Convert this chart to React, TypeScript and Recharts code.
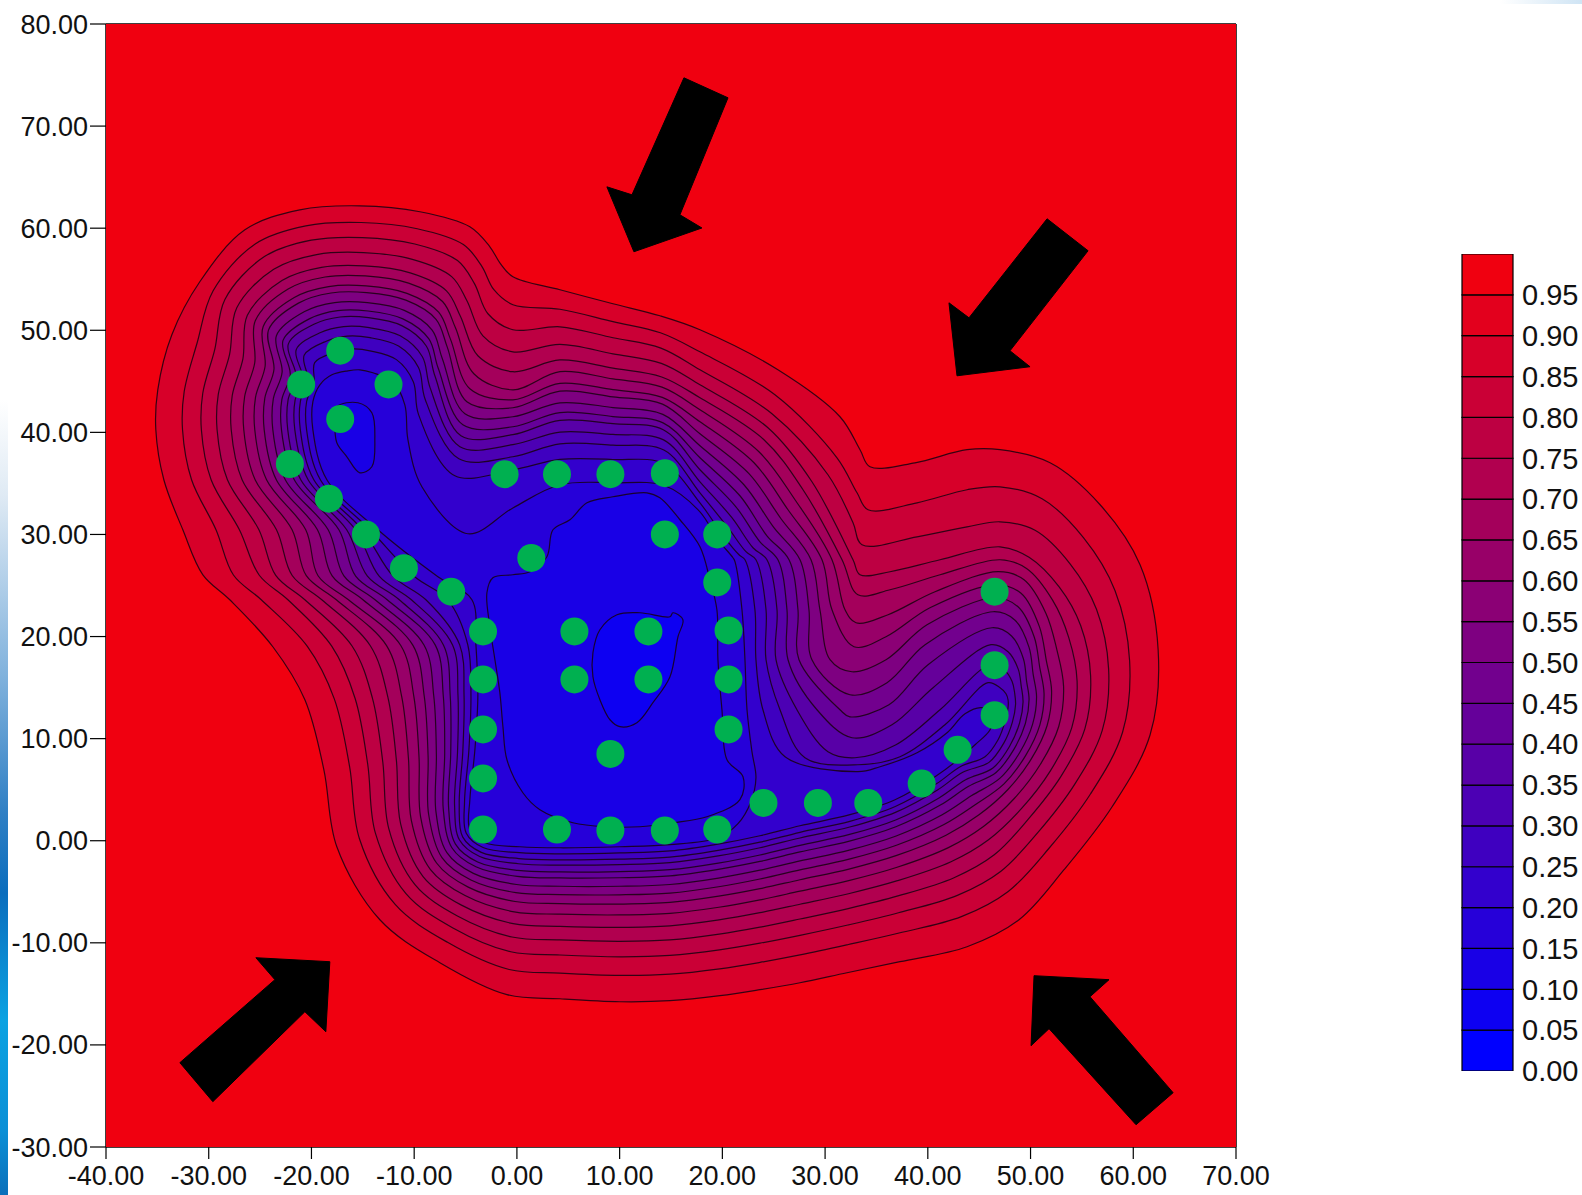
import React from 'react';
import { ScatterChart, Scatter, XAxis, YAxis, BarChart, Bar } from 'recharts';

// ---------- axes ----------
const xTicks = [-40, -30, -20, -10, 0, 10, 20, 30, 40, 50, 60, 70];
const yTicks = [-30, -20, -10, 0, 10, 20, 30, 40, 50, 60, 70, 80];
const colorbarTicks = [0, 0.05, 0.1, 0.15, 0.2, 0.25, 0.3, 0.35, 0.4, 0.45, 0.5, 0.55, 0.6, 0.65, 0.7, 0.75, 0.8, 0.85, 0.9, 0.95];

// ---------- contour levels (outer ring family) ----------
const contourLevels = [0.95, 0.9, 0.85, 0.8, 0.75, 0.7, 0.65, 0.6, 0.55, 0.5, 0.45, 0.4, 0.35, 0.3, 0.25];

// spacing of the contour lines across the ring (fraction from the 0.95 line to the inner line)
const PATTERNS: Record<string, (number | null)[]> = {
  PW: [0, 0.17, 0.29, 0.39, 0.48, 0.56, 0.63, 0.69, 0.745, 0.8, 0.84, 0.885, 0.92, 0.96, 1],
  PN: [0, 0.1, 0.19, 0.28, 0.36, 0.42, 0.48, 0.52, 0.58, 0.63, 0.67, 0.73, 0.79, 0.87, 1],
  PSW: [0, 0.13, 0.24, 0.31, 0.38, 0.44, 0.49, 0.55, 0.6, 0.65, 0.7, 0.75, 0.81, 0.9, 1],
  PE: [0, 0.19, 0.33, 0.45, 0.54, 0.63, 0.71, 0.76, 0.81, 0.86, 0.9, 0.95, 1, null, null],
  PRN: [0, 0.16, 0.3, 0.42, 0.47, 0.52, 0.58, 0.64, 0.7, 0.77, 0.84, 0.92, 1, null, null],
  PNE: [0, 0.175, 0.315, 0.435, 0.505, 0.575, 0.645, 0.7, 0.755, 0.815, 0.87, 0.935, 1, null, null],
  PS14: [0, 0.177, 0.302, 0.406, 0.5, 0.583, 0.656, 0.719, 0.776, 0.833, 0.875, 0.922, 0.958, 1, null],
};

// stations: [x on 0.95 line, y, x on inner line, y, pattern] | explicit list of 15 points | single point of one level
const westNorthStations: any[] = [
  [-35.15, 40.25, -19.86, 40.25, 'PW'],
  [-34.96, 44.17, -19.86, 43.0, 'PW'],
  [-33.59, 49.56, -19.18, 44.66, 'PW'],
  [-30.87, 54.75, -18.01, 45.64, 'PN'],
  [-26.48, 59.84, -16.46, 46.03, 'PN'],
  [-21.13, 61.8, -15.29, 46.13, 'PN'],
  [-15.29, 62.19, -14.02, 45.84, 'PN'],
  [-9.44, 61.61, -12.07, 44.96, 'PN'],
  [-4.58, 60.14, -10.91, 42.7, 'PN'],
  [-2.63, 58.18, -10.61, 39.28, 'PN'],
  { lv: 14, pt: [-9.25, 34.67] },
  [[-1.66, 56.61], [-2.24, 53.97], [-2.82, 51.62], [-3.31, 49.46], [-3.8, 47.5], [-4.19, 45.74], [-4.58, 44.27], [-4.87, 43.0], [-5.06, 41.82], [-5.26, 40.74], [-5.45, 39.67], [-5.55, 38.59], [-5.65, 37.41], [-6.04, 35.75], [-4.77, 30.07]],
  [[-0.39, 55.24], [-0.39, 52.5], [-0.39, 50.05], [-0.39, 47.89], [-0.39, 45.94], [-0.39, 44.17], [-0.39, 43.19], [-0.39, 42.41], [-0.39, 41.53], [-0.39, 40.55], [-0.39, 39.77], [-0.39, 38.79], [-0.39, 37.61], [-0.39, 36.34], [-0.39, 32.6]],
  [4.19, 53.97, 4.19, 34.87, 'PN'],
  [9.35, 52.6, 9.35, 35.06, 'PN'],
  [13.92, 51.42, 14.41, 34.77, 'PN'],
];

const neStations: any[] = [
  [[17.82, 50.05], [17.82, 47.89], [17.82, 46.13], [17.82, 44.66], [17.82, 43.39], [17.82, 42.21], [17.82, 41.04], [17.82, 39.86], [17.82, 38.69], [17.82, 37.51], [17.82, 36.34], [17.82, 35.16], [17.82, 34.08], [17.82, 33.1], [17.82, 32.22]],
  [[25.41, 46.13], [25.12, 43.68], [24.83, 41.82], [24.44, 40.45], [24.05, 39.28], [23.56, 38.1], [23.08, 37.02], [22.59, 35.95], [22.1, 34.87], [21.71, 33.79], [21.32, 32.71], [20.93, 31.64], [20.55, 30.66], [20.16, 29.77], [19.57, 29.48]],
  [[31.45, 41.53], [31.16, 37.51], [30.28, 35.85], [28.72, 35.16], [27.85, 34.38], [27.07, 33.4], [26.39, 32.42], [25.71, 31.54], [25.02, 30.66], [24.34, 29.87], [23.66, 29.28], [22.98, 28.7], [22.3, 28.31], [21.62, 28.01], [21.03, 27.72]],
  [[33.4, 38.3], [33.11, 34.08], [32.72, 31.15], [32.72, 27.52], [31.65, 27.52], [30.67, 27.52], [29.7, 27.52], [28.63, 27.52], [27.56, 27.52], [26.49, 27.52], [25.41, 27.52], [24.34, 27.52], [23.27, 27.52], [22.2, 27.52], [21.23, 27.33]],
  [null, null, null, null, null, [31.94, 22.62], [30.67, 22.62], [29.5, 22.62], [28.43, 22.62], [27.36, 22.62], [26.29, 22.62], [25.32, 22.62], [24.25, 22.62], [23.17, 22.62], [21.91, 22.62]],
  [null, null, null, null, null, null, null, [30.48, 17.73], [28.72, 17.73], [27.46, 17.73], [26.39, 17.73], [25.22, 17.73], [24.25, 17.73], [23.27, 17.73], [22.2, 17.73]],
  [null, null, null, null, null, null, null, null, null, [31.45, 12.83], [29.21, 12.83], [27.26, 12.83], [25.61, 12.83], [23.95, 12.83], [22.4, 12.83]],
  [null, null, null, null, null, null, null, null, null, null, null, [30.28, 8.72], [28.04, 8.13], [26.1, 8.23], [22.88, 8.72]],
  { lv: 14, pt: [23.27, 6.17] },
  { lv: 14, pt: [22.78, 3.82] },
  { lv: 14, pt: [21.52, 1.67] },
];

const tongueStations: any[] = [
  [[34.37, 36.63], [34.18, 32.42], [33.59, 28.99], [33.4, 26.05], [33.2, 24.09], [33.01, 21.35], [32.81, 19.0], [32.62, 16.55], [32.42, 14.3], [32.42, 12.14], [32.62, 10.09], [32.91, 8.13], [33.2, 7.44], [33.2, 6.76], null],
  [[38.75, 37.02], [38.95, 33.1], [38.95, 29.77], [36.32, 26.35], [36.32, 24.58], [36.13, 22.14], [35.93, 19.98], [35.93, 17.73], [36.03, 15.48], [36.22, 13.32], [36.51, 11.36], [36.9, 9.4], [37.29, 8.23], [35.35, 7.25], null],
  [[43.82, 38.3], [43.82, 34.38], [43.82, 30.75], [41.19, 27.52], [41.19, 26.05], [40.7, 24.39], [40.21, 22.82], [39.92, 21.16], [39.73, 19.2], [40.02, 17.24], [40.51, 14.99], [41.19, 12.83], [41.67, 11.36], [38.95, 8.62], null],
  [[47.03, 38.3], [47.03, 34.67], [47.03, 31.24], [47.03, 28.79], [47.03, 27.52], [46.84, 26.35], [46.64, 25.07], [46.54, 23.8], [46.35, 22.43], [46.25, 20.86], [46.15, 19.2], [46.06, 17.24], [45.86, 15.48], [41.87, 10.58], null],
  { lv: 13, pt: [43.62, 12.44] },
  { lv: 13, pt: [45.28, 13.03] },
  { lv: 13, pt: [46.35, 12.24] },
  { lv: 13, pt: [46.06, 10.87] },
  { lv: 13, pt: [44.6, 9.4] },
];

const eastStations: any[] = [
  [51.9, 37.02, 47.03, 14.99, 'PRN'],
  [56.77, 32.91, 47.61, 14.4, 'PNE'],
  [60.66, 27.03, 47.81, 13.81, 'PE'],
  [62.42, 18.71, 47.81, 13.03, 'PE'],
  [61.64, 10.38, 47.52, 11.66, 'PE'],
  [57.94, 3.33, 46.84, 9.89, 'PE'],
  [53.26, -2.84, 45.57, 8.23, 'PE'],
];

const southStations: any[] = [
  [48.88, -7.74, 42.94, 7.93, 'PS14'],
  [43.82, -10.38, 40.7, 6.27, 'PS14'],
  [37.29, -11.85, 36.81, 4.02, 'PS14'],
  [32.13, -12.93, 32.42, 2.55, 'PS14'],
  [27.56, -13.91, 27.56, 1.47, 'PS14'],
  [23.66, -14.59, 23.66, 0.49, 'PS14'],
  [19.77, -15.18, 19.57, 0.29, 'PW'],
  [14.9, -15.67, 14.9, -0.39, 'PW'],
  [10.03, -15.77, 10.03, -0.59, 'PW'],
  [4.19, -15.48, 4.19, -0.69, 'PW'],
  [-0.97, -15.08, 0.29, -0.59, 'PW'],
  [-7.5, -11.95, -3.12, -0.2, 'PW'],
  [-13.34, -7.74, -4.58, 1.08, 'PW'],
  [-17.53, -0.59, -4.58, 4.02, 'PW'],
  [-18.79, 6.95, -4.09, 8.91, 'PW'],
  [-20.64, 13.81, -3.8, 14.3, 'PW'],
  [-23.76, 19.0, -3.99, 19.2, 'PW'],
  [-27.95, 23.6, -4.38, 23.6, 'PSW'],
  [-30.57, 26.05, -7.69, 25.86, 'PSW'],
  [-32.52, 30.46, -13.53, 30.46, 'PW'],
  [-34.37, 35.36, -18.5, 35.36, 'PW'],
];

// inner contours (0.20 and 0.15)
const centralC20X = [-2.92, -2.34, -0.39, 1.27, 2.92, 3.51, 5.16, 6.82, 9.35, 12.66, 13.92, 15.87, 17.82, 18.79, 19.47, 19.57, 19.96, 20.45, 22.01, 21.71, 18.5, 15.19, 11.98, 8.76, 5.45, 2.24, 0.58, -0.97, -1.36, -1.66, -2.14, -2.63];
const centralC20Y = [24.29, 25.76, 26.05, 26.35, 27.82, 30.46, 31.44, 33.1, 33.69, 34.08, 33.59, 31.44, 28.79, 25.56, 22.62, 17.73, 12.83, 7.93, 6.27, 4.02, 2.35, 1.76, 1.37, 1.37, 1.76, 3.04, 4.7, 7.93, 11.17, 14.5, 17.73, 20.96];
const nwC20X = [-17.72, -17.53, -15.48, -14.12, -13.83, -14.12, -15.29, -16.55, -17.53];
const nwC20Y = [40.94, 42.51, 42.9, 41.92, 39.28, 36.63, 36.04, 37.61, 38.98];
const c15X = [7.4, 8.08, 9.74, 11.98, 14.9, 15.19, 16.16, 15.68, 14.9, 13.24, 11.68, 10.03, 9.06, 8.08, 7.4];
const c15Y = [18.41, 20.67, 22.14, 22.33, 21.94, 22.33, 21.65, 19.98, 16.06, 13.52, 11.56, 11.17, 11.85, 13.81, 16.06];

// green sample points
const dotX = [-17.2, -21.0, -12.5, -17.2, -22.1, -18.3, -14.7, -11.0, -6.4, -3.3, -3.3, -3.3, -3.3, -3.3, 3.9, 9.1, 14.4, 19.5, 24.0, 29.3, 34.2, 39.4, 42.9, 46.5, 46.5, 46.5, -1.2, 3.9, 9.1, 14.4, 14.4, 19.5, 19.5, 20.6, 20.6, 20.6, 1.4, 5.6, 12.8, 5.6, 12.8, 9.1];
const dotY = [48.0, 44.7, 44.7, 41.3, 36.9, 33.5, 30.0, 26.7, 24.4, 20.5, 15.8, 10.9, 6.1, 1.1, 1.1, 1.0, 1.0, 1.1, 3.7, 3.7, 3.7, 5.6, 8.9, 12.3, 17.2, 24.4, 35.9, 35.9, 35.9, 36.0, 30.0, 30.0, 25.3, 20.6, 15.8, 10.9, 27.7, 20.5, 20.5, 15.8, 15.8, 8.5];

// black arrows
const arrowTop = [[16.26, 74.73], [20.55, 72.77], [15.87, 61.31], [18.01, 60.02], [11.39, 57.69], [8.76, 64.05], [11.2, 63.27]];
const arrowTopRight = [[51.61, 60.92], [55.6, 57.79], [48.0, 47.99], [49.95, 46.43], [42.84, 45.54], [42.06, 52.69], [44.01, 51.22]];
const arrowBottomLeft = [[-18.21, -11.85], [-18.6, -18.71], [-20.64, -16.75], [-29.6, -25.56], [-32.81, -21.74], [-23.56, -13.61], [-25.41, -11.46]];
const arrowBottomRight = [[50.34, -13.22], [57.64, -13.61], [55.79, -15.28], [63.88, -24.68], [60.27, -27.82], [51.8, -18.41], [50.05, -20.08]];

// ---------- helpers ----------
const FONT = '"Liberation Sans", Arial, Helvetica, sans-serif';
const bandColor = (s: number) => {
  const t = s / 19;
  return `rgb(${Math.round(240 * t)},0,${Math.round(255 - 239 * t)})`;
};
const bandIndex = (level: number) => Math.round(level / 0.05) - 1;
const LINE = 'rgba(25,0,15,0.85)';

// closed centripetal Catmull-Rom curve factory (d3 curve interface) for smooth contour lines
function smoothClosed(context: any) {
  let pts: number[][] = [];
  return {
    areaStart() {},
    areaEnd() {},
    lineStart() {
      pts = [];
    },
    point(x: number, y: number) {
      x = +x;
      y = +y;
      const last = pts[pts.length - 1];
      if (!last || Math.hypot(last[0] - x, last[1] - y) > 0.5) pts.push([x, y]);
    },
    lineEnd() {
      if (pts.length > 1 && Math.hypot(pts[0][0] - pts[pts.length - 1][0], pts[0][1] - pts[pts.length - 1][1]) < 0.5) pts.pop();
      const n = pts.length;
      if (!n) return;
      context.moveTo(pts[0][0], pts[0][1]);
      if (n < 3) {
        for (let i = 1; i < n; i++) context.lineTo(pts[i][0], pts[i][1]);
        context.closePath();
        return;
      }
      for (let i = 0; i < n; i++) {
        const p0 = pts[(i - 1 + n) % n];
        const p1 = pts[i];
        const p2 = pts[(i + 1) % n];
        const p3 = pts[(i + 2) % n];
        const l01 = Math.hypot(p1[0] - p0[0], p1[1] - p0[1]);
        const l12 = Math.hypot(p2[0] - p1[0], p2[1] - p1[1]);
        const l23 = Math.hypot(p3[0] - p2[0], p3[1] - p2[1]);
        const a01 = Math.sqrt(l01);
        const a12 = Math.sqrt(l12);
        const a23 = Math.sqrt(l23);
        let c1x = p1[0];
        let c1y = p1[1];
        let c2x = p2[0];
        let c2y = p2[1];
        if (a01 > 1e-6) {
          const a = 2 * l01 + 3 * a01 * a12 + l12;
          const nn = 3 * a01 * (a01 + a12);
          c1x = (p1[0] * a - p0[0] * l12 + p2[0] * l01) / nn;
          c1y = (p1[1] * a - p0[1] * l12 + p2[1] * l01) / nn;
        }
        if (a23 > 1e-6) {
          const b = 2 * l23 + 3 * a23 * a12 + l12;
          const m = 3 * a23 * (a23 + a12);
          c2x = (p2[0] * b + p1[0] * l23 - p3[0] * l12) / m;
          c2y = (p2[1] * b + p1[1] * l23 - p3[1] * l12) / m;
        }
        context.bezierCurveTo(c1x, c1y, c2x, c2y, p2[0], p2[1]);
      }
      context.closePath();
    },
  };
}

function buildContours() {
  const out: { x: number; y: number }[][] = contourLevels.map(() => []);
  const all = [...westNorthStations, ...neStations, ...tongueStations, ...eastStations, ...southStations];
  for (const st of all) {
    if (Array.isArray(st) && typeof st[0] === 'number') {
      const [x0, y0, x1, y1, pn] = st;
      PATTERNS[pn].forEach((f, k) => {
        if (f !== null) out[k].push({ x: x0 + f * (x1 - x0), y: y0 + f * (y1 - y0) });
      });
    } else if (Array.isArray(st)) {
      st.forEach((p: number[] | null, k: number) => {
        if (p) out[k].push({ x: p[0], y: p[1] });
      });
    } else {
      out[st.lv].push({ x: st.pt[0], y: st.pt[1] });
    }
  }
  return out;
}

const zip = (xs: number[], ys: number[]) => xs.map((x, i) => ({ x, y: ys[i] }));
const toPts = (arr: number[][]) => arr.map(([x, y]) => ({ x, y }));

const noShape = () => <g />;
const dotShape = (p: any) => <circle cx={p.cx} cy={p.cy} r={14} fill="#00b050" />;

export default function App() {
  const contours = buildContours();
  const frame = [
    { x: xTicks[0], y: yTicks[0] },
    { x: xTicks[xTicks.length - 1], y: yTicks[0] },
    { x: xTicks[xTicks.length - 1], y: yTicks[yTicks.length - 1] },
    { x: xTicks[0], y: yTicks[yTicks.length - 1] },
  ];
  const inner = [
    { pts: zip(centralC20X, centralC20Y), lv: 0.2 },
    { pts: zip(nwC20X, nwC20Y), lv: 0.2 },
    { pts: zip(c15X, c15Y), lv: 0.15 },
  ];
  const arrows = [arrowTop, arrowTopRight, arrowBottomLeft, arrowBottomRight];
  const dots = zip(dotX, dotY);
  const colorbarRow: any = { name: 'c' };
  colorbarTicks.forEach((v, i) => {
    const next = i + 1 < colorbarTicks.length ? colorbarTicks[i + 1] : 1;
    colorbarRow[`s${i}`] = next - v;
  });
  const tickStyle = { fontSize: 27, fill: '#111', fontFamily: FONT };

  return (
    <div style={{ position: 'absolute', left: 0, top: 0, width: 1582, height: 1195, background: '#fff', overflow: 'hidden', fontFamily: FONT }}>
      <div style={{ position: 'absolute', left: 0, top: 400, width: 8, height: 795, background: 'linear-gradient(to bottom, #ffffff 0%, #dfeaf4 12%, #7fb1dc 35%, #2f7fc4 52%, #0a6dbd 62%, #0aa2e2 78%, #0a8fd6 92%, #0a6fba 100%)' }} />
      <div style={{ position: 'absolute', left: 1500, top: 0, width: 82, height: 4, background: 'linear-gradient(to right, #ffffff, #cfe4f4)' }} />
      <div style={{ position: 'absolute', left: 0, top: 0 }}>
        <ScatterChart width={1582} height={1195} margin={{ top: 0, right: 326, bottom: 0, left: 0 }}>
          <Scatter data={frame} xAxisId="t" yAxisId="r" line={{ fill: bandColor(19), stroke: 'none' }} lineType="joint" lineJointType="linearClosed" shape={noShape} isAnimationActive={false} />
          {contours.map((pts, k) => (
            <Scatter
              key={`c${k}`}
              data={pts}
              xAxisId="b"
              yAxisId="l"
              line={{ fill: bandColor(bandIndex(contourLevels[k]) - 1), stroke: LINE, strokeWidth: 1.2 }}
              lineType="joint"
              lineJointType={smoothClosed as any}
              shape={noShape}
              isAnimationActive={false}
            />
          ))}
          {inner.map((c, k) => (
            <Scatter
              key={`i${k}`}
              data={c.pts}
              xAxisId="b"
              yAxisId="l"
              line={{ fill: bandColor(bandIndex(c.lv) - 1), stroke: LINE, strokeWidth: 1.2 }}
              lineType="joint"
              lineJointType={smoothClosed as any}
              shape={noShape}
              isAnimationActive={false}
            />
          ))}
          {arrows.map((a, k) => (
            <Scatter key={`a${k}`} data={toPts(a)} xAxisId="b" yAxisId="l" line={{ fill: '#000', stroke: '#000', strokeWidth: 1 }} lineType="joint" lineJointType="linearClosed" shape={noShape} isAnimationActive={false} />
          ))}
          <Scatter data={dots} xAxisId="b" yAxisId="l" shape={dotShape} isAnimationActive={false} />
          <XAxis xAxisId="b" type="number" dataKey="x" domain={[xTicks[0], xTicks[xTicks.length - 1]]} ticks={xTicks} interval={0} allowDataOverflow height={48} tickSize={12} tickMargin={7} tickFormatter={(v: number) => v.toFixed(2)} tick={tickStyle} axisLine={{ stroke: '#000', strokeWidth: 1.5 }} tickLine={{ stroke: '#000', strokeWidth: 1.2 }} />
          <XAxis xAxisId="t" orientation="top" type="number" dataKey="x" domain={[xTicks[0], xTicks[xTicks.length - 1]]} ticks={xTicks} interval={0} allowDataOverflow height={24} tickSize={12} tick={false} axisLine={{ stroke: '#000', strokeWidth: 1.5 }} tickLine={{ stroke: '#000', strokeWidth: 1.2 }} />
          <YAxis yAxisId="l" type="number" dataKey="y" domain={[yTicks[0], yTicks[yTicks.length - 1]]} ticks={yTicks} interval={0} allowDataOverflow width={106} tickSize={16} tickMargin={2} tickFormatter={(v: number) => v.toFixed(2)} tick={tickStyle} axisLine={{ stroke: '#000', strokeWidth: 1.5 }} tickLine={{ stroke: '#000', strokeWidth: 1.2 }} />
          <YAxis yAxisId="r" orientation="right" type="number" dataKey="y" domain={[yTicks[0], yTicks[yTicks.length - 1]]} ticks={yTicks} interval={0} allowDataOverflow width={20} tickSize={12} tick={false} axisLine={{ stroke: '#000', strokeWidth: 1.5 }} tickLine={{ stroke: '#000', strokeWidth: 1.2 }} />
        </ScatterChart>
      </div>
      <div style={{ position: 'absolute', left: 1440, top: 230 }}>
        <BarChart width={142} height={870} data={[colorbarRow]} margin={{ top: 24, right: 0, bottom: 29, left: 22 }} barCategoryGap={0}>
          <XAxis dataKey="name" hide />
          <YAxis orientation="right" type="number" width={69} domain={[0, 1]} ticks={colorbarTicks} interval={0} allowDataOverflow tickFormatter={(v: number) => v.toFixed(2)} axisLine={false} tickLine={false} tickSize={0} tickMargin={9} tick={{ fontSize: 29, fill: '#111', fontFamily: FONT }} />
          {colorbarTicks.map((v, i) => (
            <Bar key={`s${i}`} dataKey={`s${i}`} stackId="cb" fill={bandColor(i)} stroke="#000" strokeWidth={1.2} isAnimationActive={false} />
          ))}
        </BarChart>
      </div>
    </div>
  );
}
